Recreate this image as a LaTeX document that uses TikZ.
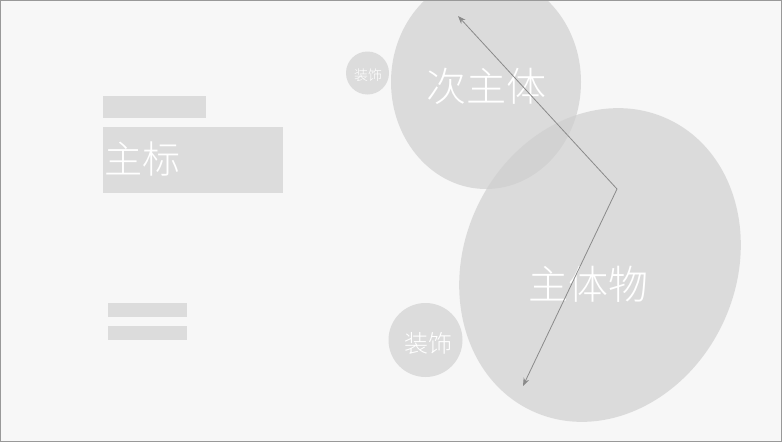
\documentclass[tikz,border=0pt]{standalone}
\usepackage{fontspec}
\setmainfont{Noto Sans CJK SC Light}
\usepackage{tikz}
\usetikzlibrary{arrows,arrows.meta,shapes}
\definecolor{bg}{HTML}{F7F7F7}
\definecolor{blob}{HTML}{CECECE}
\definecolor{pane}{HTML}{DCDCDC}
\definecolor{rule}{HTML}{8A8A8A}

\begin{document}
\begin{tikzpicture}[x=1pt,y=-1pt,
    txt/.style={text=white,inner sep=0pt},
    panel/.style={fill=pane}]
\fill[bg] (0,0) rectangle (782,442);
\useasboundingbox (0,0) rectangle (782,442);
% bubbles
\fill[blob,opacity=0.67] (486,82) ellipse (95 and 107);
\fill[blob,opacity=0.67,rotate around={-25:(600,265)}] (600,265) ellipse (136 and 161);
\fill[pane] (367.5,73) circle (21.5);
\fill[pane] (425.5,340) circle (37);
\node[txt,font=\fontsize{40}{40}\selectfont] (sub) at (486,86) {次主体};
\node[txt,font=\fontsize{40}{40}\selectfont] (main) at (588,284) {主体物};
\node[txt,font=\fontsize{14}{14}\selectfont] (deco1) at (368,75) {装饰};
\node[txt,font=\fontsize{24}{24}\selectfont] (deco2) at (428,343) {装饰};
% title block
\fill[panel] (103,96) rectangle (206,118);
\fill[panel] (103,127) rectangle (283,193);
\node[txt,anchor=west,font=\fontsize{38}{38}\selectfont] (title) at (104,159) {主标};
\fill[panel] (108,303) rectangle (187,317);
\fill[panel] (108,326) rectangle (187,340);
% arrow
\coordinate (p) at (458,16);
\coordinate (q) at (617,189);
\coordinate (r) at (523,386);
\draw[rule,{Stealth[length=8pt,width=6pt]}-{Stealth[length=8pt,width=6pt]},line width=0.8pt] (p) -- (q) -- (r);
\draw[gray!80] (0.5,0.5) rectangle (781.5,441.5);
\end{tikzpicture}
\end{document}
